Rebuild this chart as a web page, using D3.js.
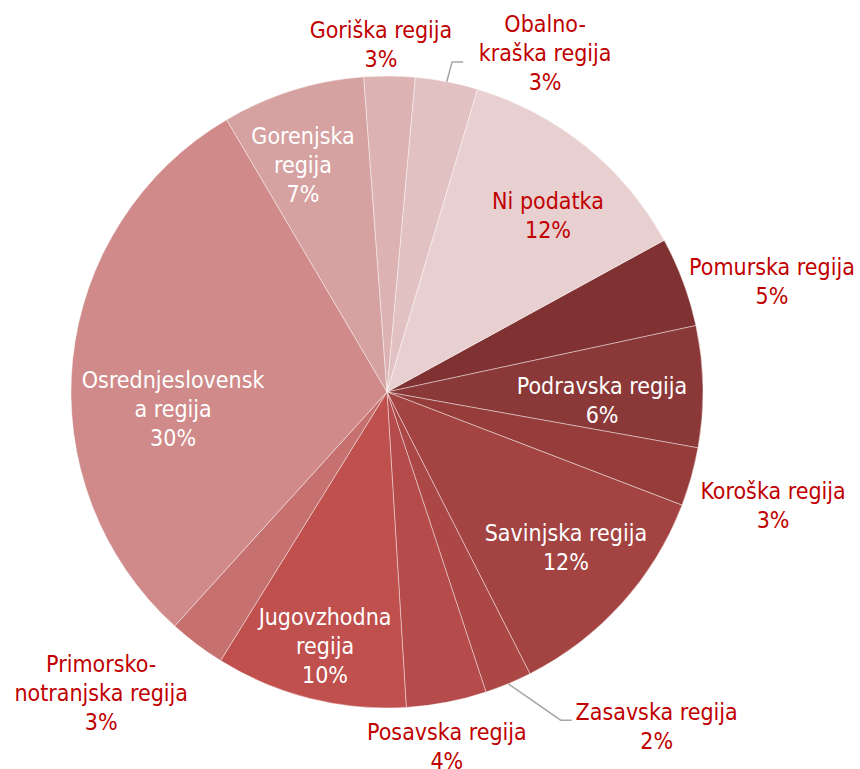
<!DOCTYPE html>
<html>
<head>
<meta charset="utf-8">
<script src="https://cdn.jsdelivr.net/npm/d3@7"></script>
<style>
  body { margin: 0; background: #fff; }
  svg text { font-family: "DejaVu Sans Condensed", "DejaVu Sans", sans-serif; font-size: 23px; }
</style>
</head>
<body>
<svg id="chart" width="860" height="769"></svg>
<script>
// data (share of total, in %)
const regions = ['Pomurska regija', 'Podravska regija', 'Koroška regija', 'Savinjska regija',
  'Zasavska regija', 'Posavska regija', 'Jugovzhodna regija', 'Primorsko-notranjska regija',
  'Osrednjeslovenska regija', 'Gorenjska regija', 'Goriška regija', 'Obalno-kraška regija', 'Ni podatka'];
const shares = [4.6, 6.2, 3.0, 11.7, 2.4, 4.1, 9.8, 2.9, 29.8, 7.3, 2.6, 3.2, 12.4];
// label text as wrapped in the picture
const labelLines = [['Pomurska regija'], ['Podravska regija'], ['Koroška regija'], ['Savinjska regija'],
  ['Zasavska regija'], ['Posavska regija'], ['Jugovzhodna', 'regija'], ['Primorsko-', 'notranjska regija'],
  ['Osrednjeslovensk', 'a regija'], ['Gorenjska', 'regija'], ['Goriška regija'], ['Obalno-', 'kraška regija'], ['Ni podatka']];

const colors = ['#7f3231', '#8b3938', '#963d3c', '#a34442', '#ab4846', '#b54b4a', '#c0504d',
  '#c6716f', '#cf8a89', '#d6a2a1', '#dcb2b2', '#e2c1c2', '#e8d0d0'];

// label placement: [distance as fraction of radius, angle in degrees], inside or outside
const labelAt = [[1.268, 73.9], [0.681, 92.1], [1.273, 106.3], [0.749, 130.9], [1.359, 141.1],
  [1.136, 170.4], [0.828, 193.7], [1.314, 223.5], [0.679, 265.5], [0.766, 339.7],
  [1.101, 359.0], [1.184, 25.0], [0.757, 42.3]];
const whiteText = [false, true, false, true, false, false, true, false, true, true, false, false, false];
// leader lines: [index, end dx, end dy from label centre]
const leaders = [[11, -82, 9], [4, -85, -6]];

const svg = d3.select('#chart');
const cx = 387, cy = 392, radius = 316;
const lineH = 29;
const toRad = Math.PI / 180;
const startDeg = 61.3;

const g = svg.append('g').attr('transform', `translate(${cx},${cy})`);

const pie = d3.pie()
  .sort(null)
  .value(d => d)
  .startAngle(startDeg * toRad)
  .endAngle((startDeg + 360) * toRad);

const arcs = pie(shares);
const arc = d3.arc().innerRadius(0).outerRadius(radius);
const total = d3.sum(shares);

g.selectAll('path.slice')
  .data(arcs)
  .join('path')
  .attr('class', 'slice')
  .attr('d', arc)
  .attr('fill', (d, i) => colors[i])
  .attr('stroke', 'rgba(255,255,255,0.55)')
  .attr('stroke-width', 0.75);

function polar(r, deg) {
  return [r * Math.sin(deg * toRad), -r * Math.cos(deg * toRad)];
}

// leader lines
leaders.forEach(([i, ex, ey]) => {
  const a = arcs[i];
  const mid = (a.startAngle + a.endAngle) / 2;
  const p0 = [radius * Math.sin(mid), -radius * Math.cos(mid)];
  const c = polar(labelAt[i][0] * radius, labelAt[i][1]);
  const p2 = [c[0] + ex, c[1] + ey];
  const p1 = [p2[0] - 11, p2[1]];
  g.append('path')
    .attr('d', d3.line()([p0, p1, p2]))
    .attr('fill', 'none')
    .attr('stroke', '#a6a6a6')
    .attr('stroke-width', 1.5);
});

// labels
const labels = g.selectAll('text.label')
  .data(arcs)
  .join('text')
  .attr('class', 'label')
  .attr('text-anchor', 'middle')
  .attr('fill', (d, i) => whiteText[i] ? '#ffffff' : '#c00000');

labels.each(function(d, i) {
  const lines = labelLines[i].concat([Math.round(d.value / total * 100) + '%']);
  const c = polar(labelAt[i][0] * radius, labelAt[i][1]);
  const top = c[1] - (lines.length - 1) * lineH / 2;
  d3.select(this).selectAll('tspan')
    .data(lines)
    .join('tspan')
    .attr('x', c[0])
    .attr('y', (t, k) => top + k * lineH)
    .attr('dy', '0.36em')
    .text(t => t);
});
</script>
</body>
</html>
